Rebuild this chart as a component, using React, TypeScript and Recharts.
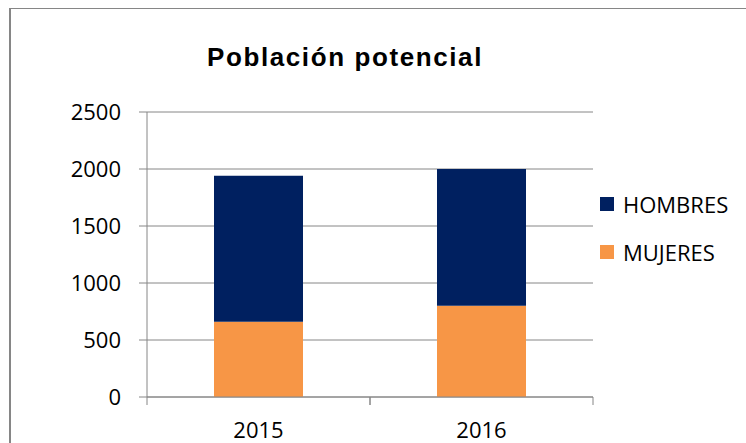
import { Bar, BarChart, CartesianGrid, Legend, XAxis, YAxis } from "recharts";

const years = ["2015", "2016"];
const mujeres = [660, 800];
const hombres = [1280, 1200];
const yTicks = [0, 500, 1000, 1500, 2000, 2500];

const seriesNames = ["MUJERES", "HOMBRES"];
const seriesColors = ["#F79646", "#002060"];

const data = years.map((year, i) => ({
  year,
  MUJERES: mujeres[i],
  HOMBRES: hombres[i],
}));

const gridColor = "#868686";
const labelFont = { fontFamily: "'Open Sans', sans-serif", fontSize: 22, fill: "#000" };

// Excel style: tick marks sit between the categories, label in the middle
const XTick = ({ x, y, payload }: any) => {
  const half = payload.offset ?? 0;
  return (
    <g>
      <line x1={x - half} x2={x - half} y1={y} y2={y + 8} stroke={gridColor} />
      <line x1={x + half} x2={x + half} y1={y} y2={y + 8} stroke={gridColor} />
      <text x={x} y={y + 41} textAnchor="middle" {...labelFont}>
        {payload.value}
      </text>
    </g>
  );
};

const LegendContent = () => (
  <div style={{ fontFamily: "'Open Sans', sans-serif", fontSize: 22, color: "#000" }}>
    {[1, 0].map((idx) => (
      <div key={seriesNames[idx]} style={{ display: "flex", alignItems: "center", height: 24, marginBottom: 24 }}>
        <span style={{ width: 14, height: 14, backgroundColor: seriesColors[idx], marginRight: 9, display: "inline-block" }} />
        <span style={{ lineHeight: "24px" }}>{seriesNames[idx]}</span>
      </div>
    ))}
  </div>
);

const App = () => {
  return (
    <div style={{ position: "fixed", left: 0, top: 0, width: 746, height: 443, background: "#fff", overflow: "hidden" }}>
      <div
        style={{
          position: "absolute",
          left: 9,
          top: 8,
          width: 760,
          height: 460,
          borderLeft: `2px solid ${gridColor}`,
          borderTop: `1px solid ${gridColor}`,
        }}
      />
      <div
        style={{
          position: "absolute",
          left: 145,
          top: 44,
          width: 400,
          textAlign: "center",
          fontFamily: "'Liberation Sans', Arial, sans-serif",
          fontWeight: "bold",
          fontSize: 26,
          lineHeight: "26px",
          letterSpacing: 1.6,
          color: "#000",
        }}
      >
        Población potencial
      </div>
      <BarChart
        width={746}
        height={443}
        data={data}
        margin={{ top: 112, right: 153, left: 0, bottom: 0 }}
        barSize={89}
      >
        <CartesianGrid vertical={false} stroke={gridColor} />
        <XAxis
          dataKey="year"
          height={46}
          tickSize={0}
          tickMargin={0}
          interval={0}
          axisLine={{ stroke: gridColor }}
          tickLine={false}
          tick={<XTick />}
        />
        <YAxis
          domain={[0, 2500]}
          ticks={yTicks}
          width={147}
          tickSize={8}
          tickMargin={18}
          axisLine={{ stroke: gridColor }}
          tickLine={{ stroke: gridColor }}
          tick={labelFont}
        />
        <Legend
          layout="horizontal"
          verticalAlign="middle"
          align="center"
          wrapperStyle={{ left: 600, top: 192, width: 146 }}
          content={<LegendContent />}
        />
        {seriesNames.map((name, i) => (
          <Bar
            key={name}
            dataKey={name}
            stackId="a"
            fill={seriesColors[i]}
            isAnimationActive={false}
          />
        ))}
      </BarChart>
    </div>
  );
};

export default App;
